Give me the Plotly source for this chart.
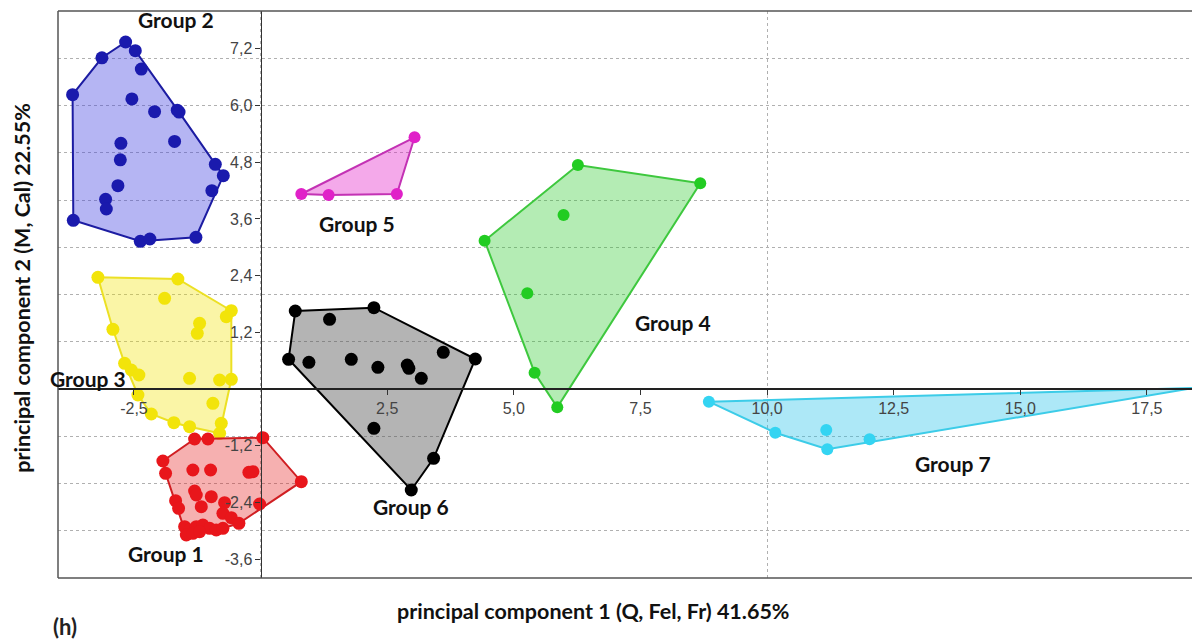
import numpy as np
import plotly.graph_objects as go

# PCA scores (PC1, PC2) per group
g1_x = [-1.303, -1.040, 0.045, -1.929, -1.876, -1.337, -0.987, -0.231, -0.152, 0.804,
        -1.303, -1.270, -0.973, -1.678, -1.619, -1.171, -0.711, -0.020, -0.744, -0.578,
        -0.428, -1.500, -1.402, -1.270, -1.139, -1.007, -0.875, -0.744, -1.467, -1.337, -1.204]
g1_y = [-1.058, -1.058, -1.031, -1.524, -1.784, -1.714, -1.714, -1.763, -1.750, -1.962,
        -2.159, -2.243, -2.279, -2.364, -2.525, -2.491, -2.406, -2.434, -2.631, -2.724,
        -2.842, -2.914, -2.984, -2.914, -2.878, -2.948, -2.984, -2.948, -3.090, -3.054, -3.020]

g2_x = [-2.665, -2.474, -3.133, -2.355, -3.712, -2.541, -2.093, -1.645, -1.610, -2.758,
        -1.698, -2.770, -0.894, -0.736, -2.817, -0.962, -3.060, -3.046, -3.698, -2.375,
        -2.186, -1.277]
g2_y = [7.344, 7.160, 7.010, 6.770, 6.230, 6.140, 5.870, 5.900, 5.860, 5.200,
        5.240, 4.850, 4.756, 4.514, 4.303, 4.197, 4.015, 3.810, 3.570, 3.126,
        3.175, 3.211]

g3_x = [-3.212, -1.633, -1.895, -0.578, -0.677, -1.204, -1.250, -2.916, -2.685, -2.553,
        -2.403, -1.402, -0.809, -0.578, -2.422, -0.942, -2.158, -1.712, -1.402, -0.776,
        -0.809]
g3_y = [2.364, 2.328, 1.920, 1.657, 1.530, 1.390, 1.179, 1.263, 0.544, 0.402,
        0.296, 0.226, 0.190, 0.205, -0.127, -0.303, -0.529, -0.713, -0.798, -0.726,
        -0.938]

g4_x = [6.265, 8.681, 5.982, 4.423, 5.266, 5.410, 5.858]
g4_y = [4.741, 4.353, 3.683, 3.139, 2.025, 0.345, -0.387]

g5_x = [3.040, 0.804, 1.343, 2.691]
g5_y = [5.327, 4.127, 4.106, 4.127]

g6_x = [0.685, 1.362, 2.237, 0.553, 0.954, 1.791, 2.316, 2.896, 2.928, 3.173,
        3.607, 4.239, 2.237, 3.416, 2.975]
g6_y = [1.651, 1.475, 1.721, 0.629, 0.565, 0.629, 0.459, 0.508, 0.438, 0.226,
        0.777, 0.635, -0.832, -1.467, -2.138]

g7_x = [8.851, 10.162, 11.169, 11.189, 12.024, 18.40]
g7_y = [-0.269, -0.925, -0.868, -1.276, -1.065, 0.020]

group_names = ["Group 1", "Group 2", "Group 3", "Group 4", "Group 5", "Group 6", "Group 7"]
label_x = [-1.876, -1.678, -3.416, 8.134, 1.895, 2.962, 13.662]
label_y = [-3.471, 7.810, 0.212, 1.397, 3.513, -2.497, -1.587]

x_tick_vals = [-2.5, 2.5, 5.0, 7.5, 10.0, 12.5, 15.0, 17.5]
x_tick_text = ["-2,5", "2,5", "5,0", "7,5", "10,0", "12,5", "15,0", "17,5"]
y_tick_vals = [-3.6, -2.4, -1.2, 1.2, 2.4, 3.6, 4.8, 6.0, 7.2]
y_tick_text = ["-3,6", "-2,4", "-1,2", "1,2", "2,4", "3,6", "4,8", "6,0", "7,2"]

x_range = [-4.0, 18.39]
y_range = [-4.0, 8.0]

x_title = "principal component 1 (Q, Fel, Fr) 41.65%"
y_title = "principal component 2 (M, Cal) 22.55%"
panel_tag = "(h)"

# drawing styles: (marker colour, hull line colour, hull fill, marker size)
styles = {
    "Group 1": ("#e8161b", "#d01e22", "rgba(230,30,30,0.35)", 13),
    "Group 2": ("#1a1aad", "#1c1ca2", "rgba(70,70,225,0.40)", 13),
    "Group 3": ("#f2e40a", "#ece024", "rgba(240,225,0,0.35)", 13),
    "Group 4": ("#22cc22", "#3ec83e", "rgba(40,200,40,0.35)", 12),
    "Group 5": ("#e021c8", "#c332b4", "rgba(225,30,200,0.38)", 12),
    "Group 6": ("#000000", "#000000", "rgba(80,80,80,0.43)", 13),
    "Group 7": ("#34d4f2", "#3ccce8", "rgba(40,195,235,0.38)", 12),
}

groups = {
    "Group 1": (g1_x, g1_y),
    "Group 2": (g2_x, g2_y),
    "Group 3": (g3_x, g3_y),
    "Group 4": (g4_x, g4_y),
    "Group 5": (g5_x, g5_y),
    "Group 6": (g6_x, g6_y),
    "Group 7": (g7_x, g7_y),
}


def convex_hull(xs, ys):
    """Andrew's monotone chain; returns closed hull vertex lists."""
    pts = sorted(set(zip(xs, ys)))
    if len(pts) < 3:
        return [p[0] for p in pts], [p[1] for p in pts]

    def cross(o, a, b):
        return (a[0] - o[0]) * (b[1] - o[1]) - (a[1] - o[1]) * (b[0] - o[0])

    lower, upper = [], []
    for p in pts:
        while len(lower) >= 2 and cross(lower[-2], lower[-1], p) <= 0:
            lower.pop()
        lower.append(p)
    for p in reversed(pts):
        while len(upper) >= 2 and cross(upper[-2], upper[-1], p) <= 0:
            upper.pop()
        upper.append(p)
    hull = lower[:-1] + upper[:-1]
    hull.append(hull[0])
    return [p[0] for p in hull], [p[1] for p in hull]


fig = go.Figure()

draw_order = ["Group 3", "Group 1", "Group 2", "Group 5", "Group 6", "Group 4", "Group 7"]
for name in draw_order:
    xs, ys = groups[name]
    mcol, lcol, fcol, msize = styles[name]
    hx, hy = convex_hull(xs, ys)
    fig.add_trace(go.Scatter(
        x=hx, y=hy, mode="lines", fill="toself", fillcolor=fcol,
        line=dict(color=lcol, width=2), hoverinfo="skip", showlegend=False,
    ))
    fig.add_trace(go.Scatter(
        x=xs, y=ys, mode="markers", name=name,
        marker=dict(color=mcol, size=msize, line=dict(width=0)),
        cliponaxis=False, showlegend=False,
    ))

# empty trace that registers the overlaid axis pair carrying the tick labels
fig.add_trace(go.Scatter(x=[], y=[], xaxis="x2", yaxis="y2",
                         showlegend=False, hoverinfo="skip"))

label_font = dict(family="Lato, 'Open Sans', sans-serif", size=21, color="#111111")
for name, lx, ly in zip(group_names, label_x, label_y):
    fig.add_annotation(x=lx, y=ly, xref="x", yref="y", text="<b>%s</b>" % name,
                       showarrow=False, font=label_font)

title_font = dict(family="Lato, 'Open Sans', sans-serif", size=21.5, color="#111111")
fig.add_annotation(x=0.4718, y=-0.058, xref="paper", yref="paper",
                   text="<b>%s</b>" % x_title, showarrow=False, font=title_font,
                   xanchor="center", yanchor="middle")
fig.add_annotation(x=-0.0317, y=0.512, xref="paper", yref="paper",
                   text="<b>%s</b>" % y_title, showarrow=False, font=title_font,
                   textangle=-90, xanchor="center", yanchor="middle")
fig.add_annotation(x=0.0062, y=-0.0864, xref="paper", yref="paper",
                   text="<b>%s</b>" % panel_tag, showarrow=False,
                   font=dict(family="Lato, 'Open Sans', sans-serif", size=22, color="#222222"),
                   xanchor="center", yanchor="middle")

# plot frame (left, top, bottom)
frame = dict(type="line", xref="paper", yref="paper", line=dict(color="#555555", width=1.5))
fig.add_shape(x0=0, x1=0, y0=0, y1=1, **frame)
fig.add_shape(x0=0, x1=1, y0=1, y1=1, **frame)
fig.add_shape(x0=0, x1=1, y0=0, y1=0, **frame)

grid_style = dict(showgrid=True, gridcolor="#b0b0b0", gridwidth=1, griddash="dot",
                  showticklabels=False, ticks="", zeroline=False, showline=False)
tick_font = dict(family="'Liberation Sans', Arial, sans-serif", size=16, color="#444444")

x_zero_pos = (0 - y_range[0]) / (y_range[1] - y_range[0])
y_zero_pos = (0 - x_range[0]) / (x_range[1] - x_range[0])

fig.update_layout(
    width=1192, height=643,
    margin=dict(l=58, r=0, t=11, b=65),
    paper_bgcolor="white", plot_bgcolor="white",
    xaxis=dict(range=x_range, tickvals=[0, 10], **grid_style),
    yaxis=dict(range=y_range, tickvals=[v for v in range(-3, 8) if v != 0], **grid_style),
    xaxis2=dict(range=x_range, overlaying="x", anchor="free", position=x_zero_pos,
                side="bottom", tickvals=x_tick_vals, ticktext=x_tick_text,
                ticks="outside", ticklen=5, tickcolor="#333333", tickwidth=1,
                showline=True, linecolor="#222222", linewidth=1.5,
                showgrid=False, zeroline=False, tickfont=tick_font),
    yaxis2=dict(range=y_range, overlaying="y", anchor="free", position=y_zero_pos,
                side="left", tickvals=y_tick_vals, ticktext=y_tick_text,
                ticks="outside", ticklen=5, tickcolor="#333333", tickwidth=1,
                showline=True, linecolor="#333333", linewidth=1.2,
                showgrid=False, zeroline=False, tickfont=tick_font),
)

fig.write_html("out.html")
